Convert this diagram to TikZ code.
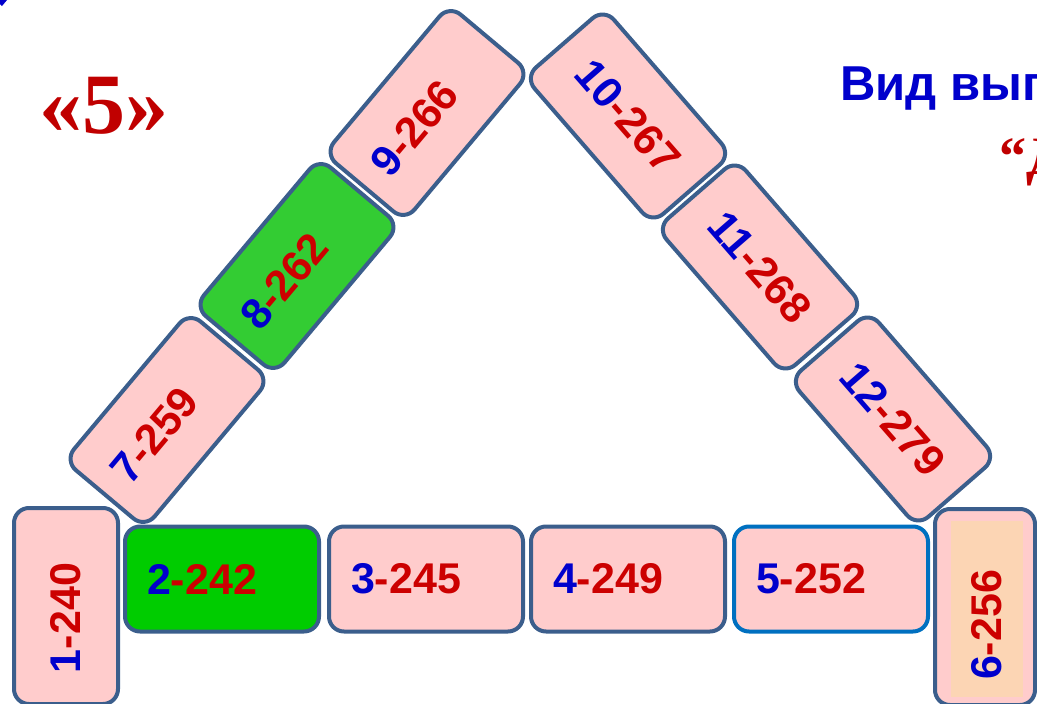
\documentclass[tikz,border=0pt]{standalone}
\usepackage{fontspec}
\setmainfont{Liberation Sans}
\newfontfamily\timesbold{Liberation Serif}

\definecolor{edge}{HTML}{3B5E8C}
\definecolor{pinkfill}{HTML}{FFCCCC}
\definecolor{peach}{HTML}{FCD5B4}
\definecolor{bright}{HTML}{00CC00}
\definecolor{leaf}{HTML}{33CC33}
\definecolor{seablue}{HTML}{0070C0}
\definecolor{numblue}{HTML}{0000CC}
\definecolor{numred}{HTML}{CC0000}
\definecolor{darkred}{HTML}{C00000}

\newcommand{\numlabel}[2]{\textcolor{numblue}{#1}\textcolor{numred}{-#2}}

\begin{document}
\begin{tikzpicture}[x=1pt, y=-1pt, tile/.style = {draw=edge, line width=4pt, fill=pinkfill, rounded corners=15pt, minimum width=194pt, minimum height=105pt, inner sep=0pt, font=\fontsize{43}{43}\selectfont\bfseries}, digits/.style = {inner sep=0pt, font=\fontsize{43}{43}\selectfont\bfseries}, lefttext/.style = {text width=150pt, align=left}]

    \useasboundingbox (0, 0) rectangle (1037, 704);

    \fill[numblue] (0, 0) -- (7, 0) -- (2, 6) -- (0, 4) -- cycle;

    \node[anchor=base, text=darkred, font=\fontsize{86}{86}\selectfont\timesbold\bfseries] at (104, 133) (mark) {«5»};
    \node[anchor=base west, text=numblue, font=\fontsize{49}{49}\selectfont\bfseries, inner sep=0pt] at (840, 100) (kind) {Вид вып};
    \node[anchor=base west, text=darkred, font=\fontsize{54}{54}\selectfont\timesbold\bfseries, inner sep=0pt] at (999, 174) (quote) {“Д};

    % bottom row
    \node at (66, 606) [tile, rotate=90, minimum width=196pt, minimum height=104pt, text width=134pt, align=left] (b1) {\numlabel{1}{240}};
    \node at (222, 579) [tile, lefttext, fill=bright] (b2) {\numlabel{2}{242}};
    \node at (426, 579) [tile, lefttext] (b3) {\numlabel{3}{245}};
    \node at (628, 579) [tile, lefttext] (b4) {\numlabel{4}{249}};
    \node at (831, 579) [tile, lefttext, draw=seablue] (b5) {\numlabel{5}{252}};

    \node at (985, 607) [tile, rotate=90, minimum width=196pt, minimum height=100pt] (b6) {};
    \fill[peach] (951, 521) rectangle (1023, 697);
    \node at (987, 625) [digits, rotate=90] (t6) {\numlabel{6}{256}};

    % left side
    \node at (167, 420) [tile, lefttext, rotate=50] (b7) {\numlabel{7}{259}};
    \node at (297, 266) [tile, lefttext, rotate=50, fill=leaf] (b8) {\numlabel{8}{262}};
    \node at (427, 113) [tile, lefttext, rotate=50] (b9) {\numlabel{9}{266}};

    % right side
    \node at (628, 116) [tile, rotate=-49] (b10) {\numlabel{10}{267}};
    \node at (760, 267) [tile, rotate=-49] (b11) {\numlabel{11}{268}};
    \node at (893, 419) [tile, rotate=-49] (b12) {\numlabel{12}{279}};
\end{tikzpicture}
\end{document}
